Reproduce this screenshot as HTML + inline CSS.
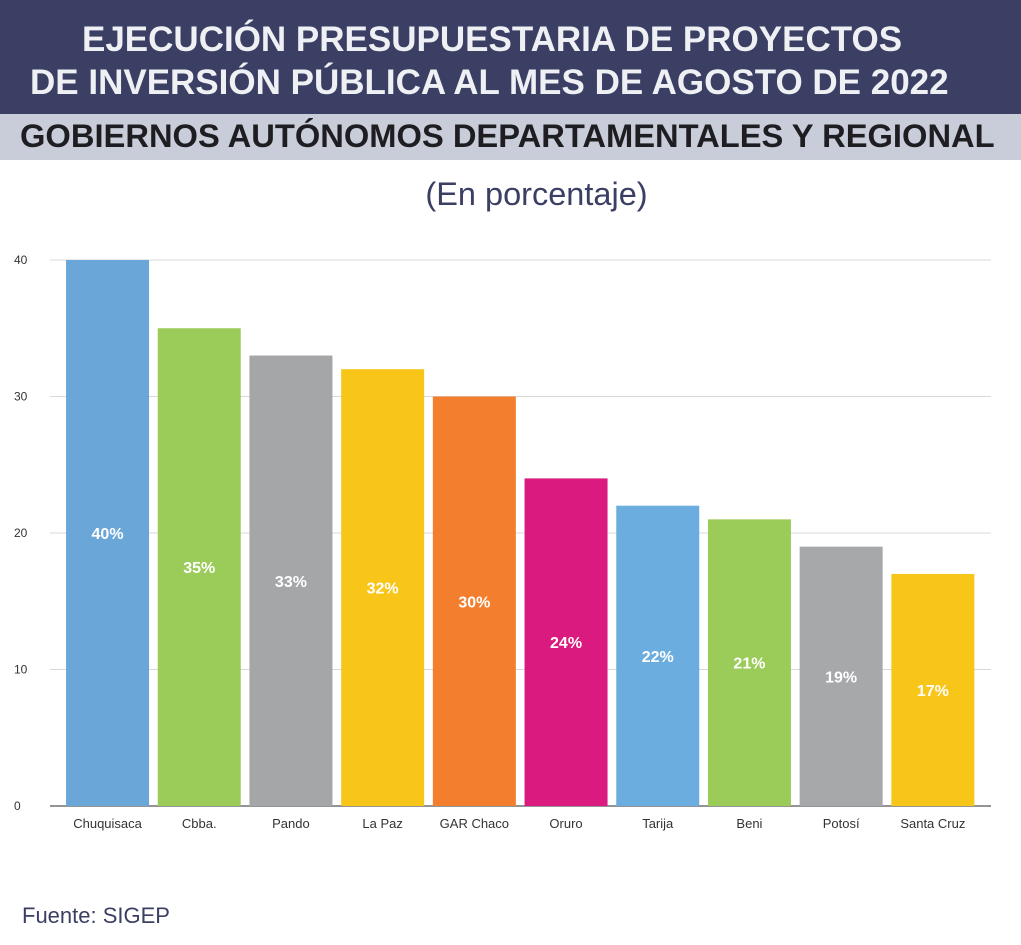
<!DOCTYPE html>
<html><head><meta charset="utf-8"><style>
body{margin:0;width:1021px;height:945px;background:#fff;overflow:hidden;font-family:"Liberation Sans",sans-serif;position:relative}
#hdr{position:absolute;left:0;top:0;width:1021px;height:114px;background:#3b3f63}
.t{position:absolute;color:#eef0f4;font-weight:bold;font-size:35px;white-space:nowrap}
#sub{position:absolute;left:0;top:114px;width:1021px;height:46px;background:#c9cdd9}
#sub div{position:absolute;left:20px;top:3px;font-weight:bold;font-size:32.7px;color:#1e1e22;white-space:nowrap}
#pct{position:absolute;left:0;width:1073px;text-align:center;top:176px;font-size:32.5px;color:#3b3f63}
#src{position:absolute;left:22px;top:903px;font-size:22px;color:#3b3f63}
svg{position:absolute;left:0;top:0}
</style></head><body>
<div id="hdr">
<div class="t" style="left:82px;top:20px">EJECUCIÓN PRESUPUESTARIA DE PROYECTOS</div>
<div class="t" style="left:30px;top:63px">DE INVERSIÓN PÚBLICA AL MES DE AGOSTO DE 2022</div>
</div>
<div id="sub"><div>GOBIERNOS AUTÓNOMOS DEPARTAMENTALES Y REGIONAL</div></div>
<div id="pct">(En porcentaje)</div>
<svg id="ch" width="1021" height="945"></svg>
<div id="src">Fuente: SIGEP</div>
<script>
const categories=["Chuquisaca","Cbba.","Pando","La Paz","GAR Chaco","Oruro","Tarija","Beni","Potosí","Santa Cruz"];
const values=[40,35,33,32,30,24,22,21,19,17];
const valueLabels=["40%","35%","33%","32%","30%","24%","22%","21%","19%","17%"];
const colors=["#6ba6d9","#9bcb59","#a4a6a8","#f8c519","#f37e2e","#da1a7e","#6badde","#9bcb59","#a6a8aa","#f8c519"];
const ticks=[0,10,20,30,40];
const NS="http://www.w3.org/2000/svg",svg=document.getElementById('ch');
const y0=806,yTop=260,vmax=40,left=61.7,step=91.7,bw=83;
const y=v=>y0-(v/vmax)*(y0-yTop);
const x=i=>left+i*step+(step-bw)/2;
function mk(t,a){const e=document.createElementNS(NS,t);for(const k in a)e.setAttribute(k,a[k]);svg.appendChild(e);return e;}
ticks.forEach(t=>{
 const l=mk('line',{x1:50,x2:991,y1:y(t),y2:y(t),stroke:t===0?'#555':'#d8d8d8','stroke-width':t===0?1.2:1});
 
 
 const tx=mk('text',{x:14,y:y(t)+4,'font-size':12,fill:'#333','font-family':'Liberation Sans'});tx.textContent=t;
 
 
});
values.forEach((v,i)=>{
 const r=mk('rect',{x:x(i),y:y(v),width:bw,height:y0-y(v),fill:colors[i]});
 
 
 const lb=mk('text',{x:x(i)+bw/2,y:(y(v)+y0)/2+6,'text-anchor':'middle','font-size':16,'font-weight':'bold',fill:'#fff','font-family':'Liberation Sans'});lb.textContent=valueLabels[i];
 
 
 const c=mk('text',{x:x(i)+bw/2,y:828,'text-anchor':'middle','font-size':13,fill:'#333','font-family':'Liberation Sans'});c.textContent=categories[i];
 
 
});
</script>
</body></html>
